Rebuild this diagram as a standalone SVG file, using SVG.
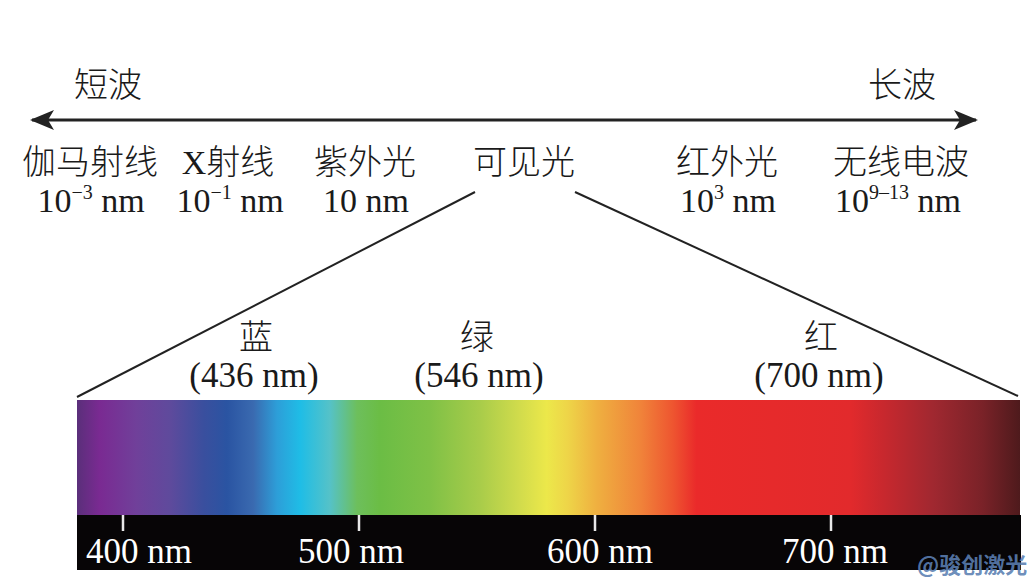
<svg xmlns="http://www.w3.org/2000/svg" width="1036" height="579" viewBox="0 0 1036 579">
<defs>
<style>
.cn{font-family:"Liberation Serif","Noto Sans CJK SC",serif;font-size:34px;font-weight:300;fill:#1a1a1a;text-anchor:middle}
.num{font-family:"Liberation Serif","Noto Sans CJK SC",serif;font-size:34px;fill:#1a1a1a;text-anchor:middle}
.sup{font-size:20px}
.tick{font-family:"Liberation Serif",serif;font-size:35px;fill:#ffffff}
.line{stroke:#222;stroke-width:2;fill:none}
.tk{stroke:#e8e8e8;stroke-width:2.5}
</style>
<linearGradient id="spec" x1="77" y1="0" x2="1020" y2="0" gradientUnits="userSpaceOnUse">
<stop offset="0" stop-color="#5a2f7a"/>
<stop offset="0.024" stop-color="#7a2a92"/>
<stop offset="0.063" stop-color="#70409a"/>
<stop offset="0.098" stop-color="#5f4a9c"/>
<stop offset="0.134" stop-color="#3a4f9e"/>
<stop offset="0.159" stop-color="#2a54a2"/>
<stop offset="0.187" stop-color="#3a6ab0"/>
<stop offset="0.212" stop-color="#2d9ed8"/>
<stop offset="0.237" stop-color="#1fbde6"/>
<stop offset="0.268" stop-color="#55c2c8"/>
<stop offset="0.297" stop-color="#6dbf5c"/>
<stop offset="0.321" stop-color="#6bbd45"/>
<stop offset="0.374" stop-color="#7fc146"/>
<stop offset="0.427" stop-color="#a8cc4a"/>
<stop offset="0.470" stop-color="#d2dc4c"/>
<stop offset="0.498" stop-color="#ece84a"/>
<stop offset="0.520" stop-color="#eed548"/>
<stop offset="0.551" stop-color="#efb040"/>
<stop offset="0.597" stop-color="#f0843a"/>
<stop offset="0.632" stop-color="#ee5530"/>
<stop offset="0.657" stop-color="#ea2a2a"/>
<stop offset="0.820" stop-color="#e22a2c"/>
<stop offset="0.855" stop-color="#c8282e"/>
<stop offset="0.908" stop-color="#a02830"/>
<stop offset="0.960" stop-color="#7a2228"/>
<stop offset="1" stop-color="#4e1a1c"/>
</linearGradient>
<marker id="ah" viewBox="0 0 24 20" refX="22" refY="10" markerWidth="24" markerHeight="20" markerUnits="userSpaceOnUse" orient="auto-start-reverse">
<path d="M0,0 L24,10 L0,20 L6,10 Z" fill="#222"/>
</marker>
</defs>
<rect width="1036" height="579" fill="#ffffff"/>

<g id="axis">
<line x1="32" y1="120" x2="976" y2="120" stroke="#222" stroke-width="3" marker-start="url(#ah)" marker-end="url(#ah)"/>
<text class="cn" x="108" y="97">短波</text>
<text class="cn" x="902" y="97">长波</text>
</g>

<g id="gamma">
<text class="cn" x="90" y="174">伽马射线</text>
<text class="num" x="91" y="212">10<tspan class="sup" dy="-13">−3</tspan><tspan dy="13"> nm</tspan></text>
</g>
<g id="xray">
<text class="cn" x="228" y="174">X射线</text>
<text class="num" x="230" y="212">10<tspan class="sup" dy="-13">−1</tspan><tspan dy="13"> nm</tspan></text>
</g>
<g id="uv">
<text class="cn" x="365" y="174">紫外光</text>
<text class="num" x="366" y="212">10 nm</text>
</g>
<g id="visible">
<text class="cn" x="524" y="174">可见光</text>
</g>
<g id="ir">
<text class="cn" x="727" y="174">红外光</text>
<text class="num" x="728" y="212">10<tspan class="sup" dy="-13">3</tspan><tspan dy="13"> nm</tspan></text>
</g>
<g id="radio">
<text class="cn" x="901" y="174">无线电波</text>
<text class="num" x="898" y="212">10<tspan class="sup" dy="-13">9–13</tspan><tspan dy="13"> nm</tspan></text>
</g>

<g id="connectors">
<line class="line" x1="475" y1="192" x2="77" y2="397"/>
<line class="line" x1="575" y1="192" x2="1018" y2="396"/>
</g>

<g id="blue">
<text class="cn" x="256" y="349">蓝</text>
<text class="num" x="254" y="387" style="font-size:35px">(436 nm)</text>
</g>
<g id="green">
<text class="cn" x="477" y="349">绿</text>
<text class="num" x="479" y="387" style="font-size:35px">(546 nm)</text>
</g>
<g id="red">
<text class="cn" x="821" y="349">红</text>
<text class="num" x="819" y="387" style="font-size:35px">(700 nm)</text>
</g>

<g id="spectrum">
<rect x="77" y="400" width="943" height="116" fill="url(#spec)"/>
<rect x="77" y="515" width="944" height="55" fill="#070506"/>
<line class="tk" x1="123" y1="515" x2="123" y2="531"/>
<line class="tk" x1="359" y1="515" x2="359" y2="531"/>
<line class="tk" x1="595" y1="515" x2="595" y2="531"/>
<line class="tk" x1="831" y1="515" x2="831" y2="531"/>
<text class="tick" x="86" y="563">400 nm</text>
<text class="tick" x="298" y="563">500 nm</text>
<text class="tick" x="547" y="563">600 nm</text>
<text class="tick" x="782" y="563">700 nm</text>
</g>

<g id="watermark">
<text x="917" y="573" style="font-family:'Noto Sans CJK SC',sans-serif;font-size:22px;font-weight:bold;fill:#5b7fb2;fill-opacity:0.9">@骏创激光</text>
</g>
</svg>
